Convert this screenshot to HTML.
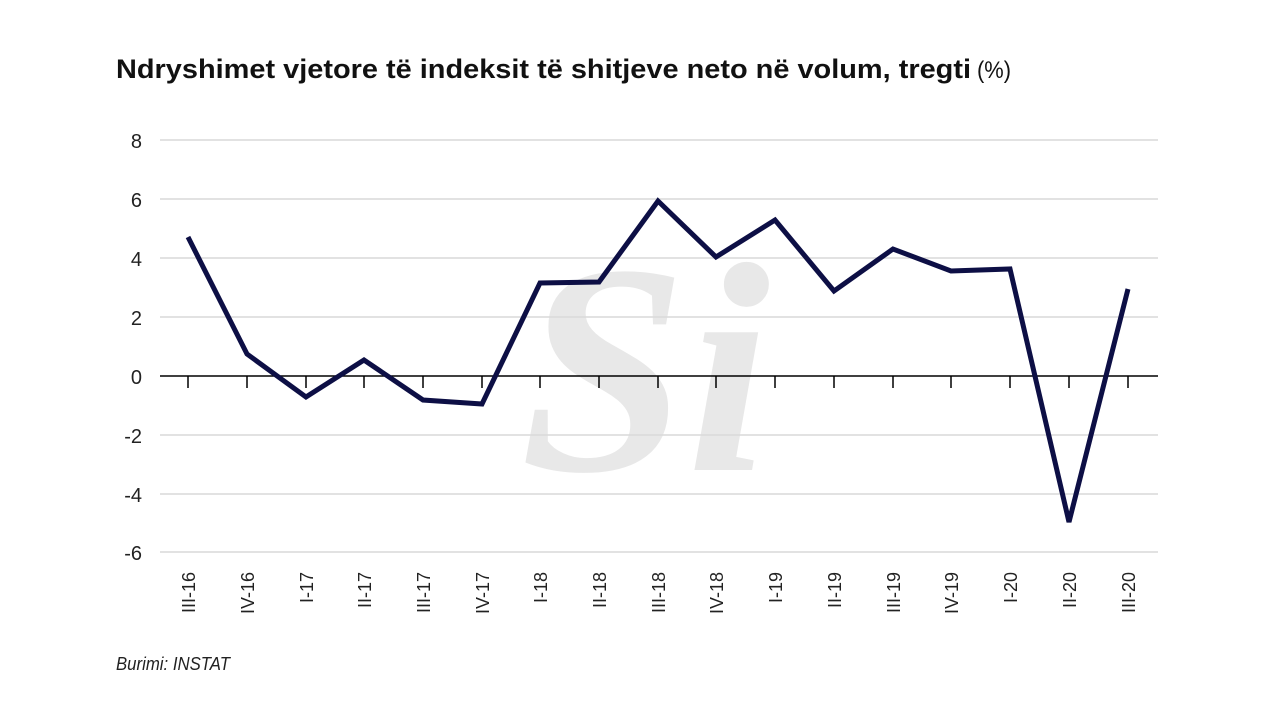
<!DOCTYPE html>
<html><head><meta charset="utf-8"><style>
body{margin:0;background:#fff;}
svg{display:block}
</style></head><body>
<svg width="1280" height="720" viewBox="0 0 1280 720" xmlns="http://www.w3.org/2000/svg">
<rect width="1280" height="720" fill="#fff"/>
<text x="116" y="78" font-family="'Liberation Sans',sans-serif" font-weight="bold" font-size="27" fill="#111" textLength="855" lengthAdjust="spacingAndGlyphs">Ndryshimet vjetore të indeksit të shitjeve neto në volum, tregti</text>
<text x="977" y="78" font-family="'Liberation Sans',sans-serif" font-size="24" fill="#111" textLength="34" lengthAdjust="spacingAndGlyphs">(%)</text>
<text x="520" y="470" font-family="'Liberation Serif',serif" font-style="italic" font-weight="bold" font-size="300" fill="#e8e8e8">Si</text>
<g stroke="#d9d9d9" stroke-width="1.5">
<line x1="160" y1="140" x2="1158" y2="140"/>
<line x1="160" y1="199" x2="1158" y2="199"/>
<line x1="160" y1="258" x2="1158" y2="258"/>
<line x1="160" y1="317" x2="1158" y2="317"/>
<line x1="160" y1="435" x2="1158" y2="435"/>
<line x1="160" y1="494" x2="1158" y2="494"/>
<line x1="160" y1="552" x2="1158" y2="552"/>
</g>
<line x1="160" y1="376" x2="1158" y2="376" stroke="#000" stroke-width="1.5"/>
<g stroke="#000" stroke-width="1.5">
<line x1="188" y1="376" x2="188" y2="388"/><line x1="247" y1="376" x2="247" y2="388"/><line x1="306" y1="376" x2="306" y2="388"/><line x1="364" y1="376" x2="364" y2="388"/><line x1="423" y1="376" x2="423" y2="388"/><line x1="482" y1="376" x2="482" y2="388"/><line x1="540" y1="376" x2="540" y2="388"/><line x1="599" y1="376" x2="599" y2="388"/><line x1="658" y1="376" x2="658" y2="388"/><line x1="716" y1="376" x2="716" y2="388"/><line x1="775" y1="376" x2="775" y2="388"/><line x1="834" y1="376" x2="834" y2="388"/><line x1="893" y1="376" x2="893" y2="388"/><line x1="951" y1="376" x2="951" y2="388"/><line x1="1010" y1="376" x2="1010" y2="388"/><line x1="1069" y1="376" x2="1069" y2="388"/><line x1="1128" y1="376" x2="1128" y2="388"/>
</g>
<g font-family="'Liberation Sans',sans-serif" font-size="20" fill="#222" text-anchor="end">
<text x="142" y="148">8</text><text x="142" y="207">6</text><text x="142" y="266">4</text><text x="142" y="325">2</text><text x="142" y="384">0</text><text x="142" y="443">-2</text><text x="142" y="502">-4</text><text x="142" y="560">-6</text>
</g>
<g font-family="'Liberation Sans',sans-serif" font-size="18" fill="#222" text-anchor="end">
<text transform="translate(195,572) rotate(-90)">III-16</text>
<text transform="translate(254,572) rotate(-90)">IV-16</text>
<text transform="translate(313,572) rotate(-90)">I-17</text>
<text transform="translate(371,572) rotate(-90)">II-17</text>
<text transform="translate(430,572) rotate(-90)">III-17</text>
<text transform="translate(489,572) rotate(-90)">IV-17</text>
<text transform="translate(547,572) rotate(-90)">I-18</text>
<text transform="translate(606,572) rotate(-90)">II-18</text>
<text transform="translate(665,572) rotate(-90)">III-18</text>
<text transform="translate(723,572) rotate(-90)">IV-18</text>
<text transform="translate(782,572) rotate(-90)">I-19</text>
<text transform="translate(841,572) rotate(-90)">II-19</text>
<text transform="translate(900,572) rotate(-90)">III-19</text>
<text transform="translate(958,572) rotate(-90)">IV-19</text>
<text transform="translate(1017,572) rotate(-90)">I-20</text>
<text transform="translate(1076,572) rotate(-90)">II-20</text>
<text transform="translate(1135,572) rotate(-90)">III-20</text>
</g>
<polyline fill="none" stroke="#0d0f45" stroke-width="5" stroke-linejoin="miter" points="188,237 247,354 306,397 364,360 423,400 482,404 540,283 599,282 658,201 716,257 775,220 834,291 893,249 951,271 1010,269 1069,522 1128,289"/>
<text x="116" y="670" font-family="'Liberation Sans',sans-serif" font-style="italic" font-size="18" fill="#222" textLength="114" lengthAdjust="spacingAndGlyphs">Burimi: INSTAT</text>
</svg>
</body></html>
